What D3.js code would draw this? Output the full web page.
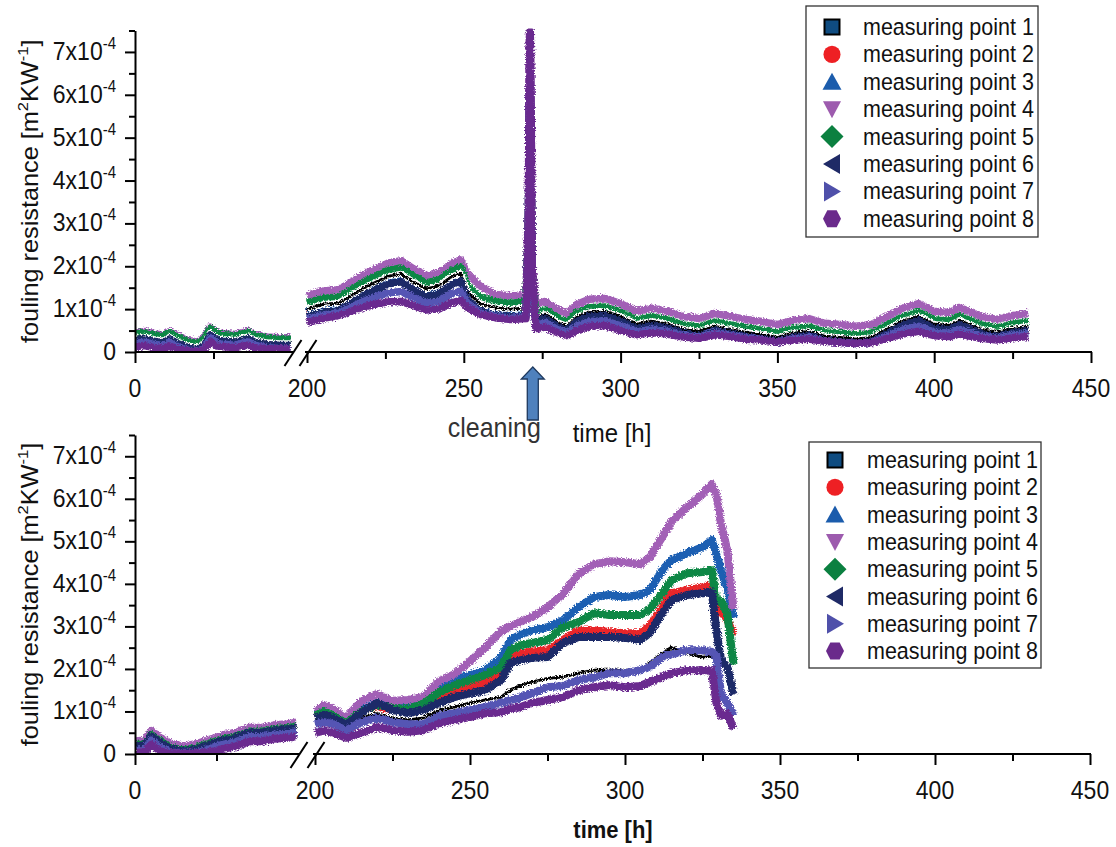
<!DOCTYPE html>
<html>
<head>
<meta charset="utf-8">
<script src="https://cdn.jsdelivr.net/npm/d3@7"></script>
<style>
  body { margin: 0; background: #fff; }
  svg { display: block; }
</style>
</head>
<body>
<svg id="chart" width="1116" height="847"></svg>
<script>
// ---------- series definitions ----------
const seriesNames = ["measuring point 1", "measuring point 2", "measuring point 3", "measuring point 4",
                     "measuring point 5", "measuring point 6", "measuring point 7", "measuring point 8"];
const seriesColors = ["#000000", "#e8252a", "#1d5fb2", "#a261b6", "#0e8744", "#1d2968", "#5454b4", "#6b2b8f"];
const symbolColors = ["#0f4c81", "#ee2024", "#1b5cac", "#9d5bae", "#0b8040", "#1f2a66", "#4f50aa", "#6a2a8b"];
const drawOrder = [1, 2, 3, 4, 0, 5, 6, 7];

// ---------- axis ticks ----------
const yMajorTicks = [0, 1, 2, 3, 4, 5, 6, 7];           // units of 1e-4 m²K/W
const yMinorTicks = [0.5, 1.5, 2.5, 3.5, 4.5, 5.5, 6.5, 7.5];
const xMajorLeft = [0];
const xMinorLeft = [25];
const xMajorRight = [200, 250, 300, 350, 400, 450];
const xMinorRight = [225, 275, 325, 375, 425];

// ---------- upper panel: run with cleaning (values in 1e-4 m²K/W) ----------
const topLeftTime = [0, 3, 6, 9, 11, 14, 17, 20, 22, 24, 26, 28, 32, 36, 38, 42, 46, 49.5];
const topLeftMP1 = [0.32,0.35,0.30,0.26,0.35,0.23,0.14,0.10,0.20,0.45,0.32,0.30,0.28,0.36,0.28,0.22,0.20,0.20];
const topLeftMP2 = [0.29,0.32,0.27,0.23,0.32,0.20,0.11,0.07,0.17,0.42,0.29,0.27,0.25,0.33,0.25,0.19,0.17,0.17];
const topLeftMP3 = [0.30,0.33,0.28,0.24,0.33,0.21,0.12,0.08,0.18,0.43,0.30,0.28,0.26,0.34,0.26,0.20,0.18,0.18];
const topLeftMP4 = [0.45,0.48,0.43,0.39,0.48,0.36,0.27,0.23,0.33,0.58,0.45,0.43,0.41,0.49,0.41,0.35,0.33,0.33];
const topLeftMP5 = [0.42,0.45,0.40,0.36,0.45,0.33,0.24,0.20,0.30,0.55,0.42,0.40,0.38,0.46,0.38,0.32,0.30,0.30];
const topLeftMP6 = [0.27,0.30,0.25,0.21,0.30,0.18,0.09,0.05,0.15,0.40,0.27,0.25,0.23,0.31,0.23,0.17,0.15,0.15];
const topLeftMP7 = [0.20,0.23,0.18,0.14,0.23,0.11,0.04,0.03,0.08,0.33,0.20,0.18,0.16,0.24,0.16,0.10,0.08,0.08];
const topLeftMP8 = [0.12,0.15,0.10,0.08,0.14,0.06,0.03,0.02,0.06,0.25,0.14,0.12,0.10,0.16,0.10,0.08,0.07,0.07];

const topRightTime = [200,203,206,210,214,218,222,226,230,234,238,242,246,249,251,255,260,265,269.8,
  270.6,270.9,271.2,271.5,271.8,
  273,276,280,283,286,290,295,300,305,310,315,320,325,330,335,340,345,350,355,360,365,370,375,380,385,390,395,400,405,408,412,415,420,425,430];
const topRightMP1 = [1.00,1.07,1.12,1.14,1.31,1.49,1.63,1.77,1.82,1.63,1.47,1.54,1.75,1.84,1.42,1.14,1.03,1.00,1.03,
  2.5,4.5,5.0,3.5,1.6,
  0.81,0.88,0.69,0.60,0.81,0.93,0.95,0.83,0.65,0.72,0.65,0.53,0.48,0.60,0.53,0.46,0.41,0.34,0.44,0.48,0.37,0.34,0.30,0.34,0.53,0.72,0.83,0.65,0.62,0.74,0.62,0.53,0.46,0.55,0.60];
const topRightMP2 = [0.92,0.99,1.04,1.06,1.23,1.41,1.55,1.69,1.74,1.55,1.39,1.46,1.67,1.76,1.34,1.06,0.95,0.92,0.95,
  2.6,4.8,5.2,3.6,1.6,
  0.76,0.83,0.64,0.55,0.76,0.88,0.90,0.78,0.60,0.67,0.60,0.48,0.43,0.55,0.48,0.41,0.36,0.29,0.39,0.43,0.32,0.29,0.25,0.29,0.48,0.67,0.78,0.60,0.57,0.69,0.57,0.48,0.41,0.50,0.55];
const topRightMP3 = [0.94,1.01,1.06,1.08,1.25,1.43,1.57,1.71,1.76,1.57,1.41,1.48,1.69,1.78,1.36,1.08,0.97,0.94,0.97,
  2.8,5.0,5.5,3.8,1.7,
  0.78,0.85,0.66,0.57,0.78,0.90,0.92,0.80,0.62,0.69,0.62,0.50,0.45,0.57,0.50,0.43,0.38,0.31,0.41,0.45,0.34,0.31,0.27,0.31,0.50,0.69,0.80,0.62,0.59,0.71,0.59,0.50,0.43,0.52,0.57];
const topRightMP4 = [1.31,1.38,1.43,1.45,1.62,1.80,1.94,2.08,2.13,1.94,1.78,1.85,2.06,2.15,1.85,1.55,1.34,1.31,1.34,
  3.5,7.4,7.3,5.0,2.0,
  1.11,1.18,0.99,0.90,1.11,1.23,1.25,1.13,0.95,1.02,0.95,0.83,0.78,0.90,0.83,0.76,0.71,0.64,0.74,0.78,0.67,0.64,0.60,0.64,0.83,1.02,1.13,0.95,0.92,1.04,0.92,0.83,0.76,0.85,0.90];
const topRightMP5 = [1.14,1.21,1.26,1.28,1.45,1.63,1.77,1.91,1.96,1.77,1.61,1.68,1.89,1.98,1.56,1.28,1.17,1.14,1.17,
  3.0,5.5,6.0,4.0,1.8,
  0.91,0.98,0.79,0.70,0.91,1.03,1.05,0.93,0.75,0.82,0.75,0.63,0.58,0.70,0.63,0.56,0.51,0.44,0.54,0.58,0.47,0.44,0.40,0.44,0.63,0.82,0.93,0.75,0.72,0.84,0.72,0.63,0.56,0.65,0.70];
const topRightMP6 = [0.82,0.89,0.94,0.96,1.13,1.31,1.45,1.59,1.64,1.45,1.29,1.36,1.57,1.66,1.24,0.96,0.85,0.82,0.85,
  2.5,4.2,4.5,3.2,1.5,
  0.71,0.78,0.59,0.50,0.71,0.83,0.85,0.73,0.55,0.62,0.55,0.43,0.38,0.50,0.43,0.36,0.31,0.24,0.34,0.38,0.27,0.24,0.20,0.24,0.43,0.62,0.73,0.55,0.52,0.64,0.52,0.43,0.36,0.45,0.50];
const topRightMP7 = [0.76,0.82,0.87,0.91,1.04,1.18,1.29,1.38,1.41,1.27,1.14,1.18,1.36,1.43,1.15,0.92,0.83,0.79,0.82,
  2.8,6.0,6.5,4.0,1.6,
  0.63,0.68,0.52,0.44,0.60,0.71,0.73,0.61,0.47,0.53,0.48,0.39,0.35,0.45,0.40,0.33,0.30,0.23,0.31,0.34,0.26,0.23,0.20,0.23,0.37,0.52,0.60,0.46,0.44,0.53,0.44,0.37,0.32,0.39,0.43];
const topRightMP8 = [0.70,0.74,0.80,0.85,0.95,1.05,1.12,1.17,1.18,1.08,0.98,1.00,1.15,1.20,1.05,0.88,0.80,0.76,0.78,
  3.2,7.2,7.5,5.5,2.0,
  0.55,0.58,0.45,0.38,0.50,0.60,0.62,0.50,0.40,0.45,0.42,0.35,0.32,0.40,0.36,0.30,0.28,0.23,0.28,0.30,0.25,0.22,0.20,0.22,0.32,0.42,0.48,0.38,0.36,0.42,0.36,0.32,0.28,0.33,0.36];

// ---------- lower panel: run without cleaning ----------
const botLeftTime = [0, 3, 5, 8, 11, 15, 19, 23, 27, 31, 35, 39, 43, 47, 49.5];
const botLeftMP1 = [0.18,0.20,0.42,0.25,0.12,0.06,0.12,0.22,0.32,0.38,0.50,0.50,0.56,0.58,0.62];
const botLeftMP2 = [0.19,0.21,0.43,0.26,0.13,0.07,0.13,0.23,0.33,0.39,0.51,0.51,0.57,0.59,0.63];
const botLeftMP3 = [0.22,0.24,0.46,0.29,0.16,0.10,0.16,0.26,0.36,0.42,0.54,0.54,0.60,0.62,0.66];
const botLeftMP4 = [0.30,0.32,0.54,0.37,0.24,0.18,0.24,0.34,0.44,0.50,0.62,0.62,0.68,0.70,0.74];
const botLeftMP5 = [0.21,0.23,0.45,0.28,0.15,0.09,0.15,0.25,0.35,0.41,0.53,0.53,0.59,0.61,0.65];
const botLeftMP6 = [0.18,0.20,0.42,0.25,0.12,0.06,0.12,0.22,0.32,0.38,0.50,0.50,0.56,0.58,0.62];
const botLeftMP7 = [0.08,0.10,0.32,0.15,0.03,0.03,0.03,0.12,0.22,0.28,0.40,0.40,0.46,0.48,0.52];
const botLeftMP8 = [0.03,0.04,0.22,0.06,0.02,0.02,0.02,0.04,0.12,0.18,0.30,0.30,0.36,0.38,0.42];

const botRightTime = [200,203,206,210,215,220,225,230,235,240,245,250,255,260,263,266,270,275,280,285,290,295,300,305,308,312,315,320,325,328,329.5,331,333,335];
const botRightMP1 = [0.8,0.85,0.8,0.6,0.85,0.95,0.85,0.8,0.85,1.03,1.1,1.2,1.27,1.34,1.5,1.6,1.69,1.78,1.81,1.9,1.97,1.97,1.97,1.97,2.15,2.37,2.51,2.37,2.28,2.3,2.2,2.3,2.1,1.5];
const botRightMP2 = [0.88,0.95,0.88,0.7,0.95,1.1,1.05,1.0,1.1,1.38,1.5,1.55,1.7,1.9,2.28,2.35,2.41,2.44,2.68,2.9,2.91,2.87,2.84,2.84,3.0,3.45,3.78,3.85,3.92,3.97,3.3,3.4,3.15,2.8];
const botRightMP3 = [0.95,1.05,0.95,0.75,1.05,1.2,1.12,1.12,1.25,1.57,1.74,1.86,1.97,2.26,2.68,2.8,2.91,2.98,3.15,3.45,3.69,3.74,3.69,3.74,3.85,4.32,4.56,4.72,4.86,5.03,4.7,4.3,3.9,3.2];
const botRightMP4 = [1.0,1.15,1.05,0.85,1.25,1.41,1.25,1.27,1.34,1.71,1.88,2.18,2.51,2.89,3.0,3.1,3.22,3.45,3.76,4.23,4.46,4.53,4.51,4.46,4.63,5.1,5.47,5.8,6.11,6.34,6.1,5.4,4.8,3.4];
const botRightMP5 = [0.9,1.0,0.9,0.72,1.0,1.15,1.08,1.05,1.18,1.45,1.62,1.74,1.86,2.04,2.44,2.55,2.61,2.68,2.98,3.1,3.31,3.27,3.27,3.27,3.4,3.78,4.09,4.25,4.28,4.32,3.6,3.6,3.3,2.1];
const botRightMP6 = [0.85,0.92,0.85,0.68,0.98,1.2,1.03,0.96,1.03,1.2,1.34,1.43,1.5,1.74,2.14,2.2,2.26,2.28,2.61,2.75,2.75,2.75,2.73,2.68,2.85,3.31,3.62,3.74,3.78,3.8,2.9,2.2,2.05,1.4];
const botRightMP7 = [0.7,0.75,0.7,0.55,0.75,0.85,0.75,0.7,0.7,0.9,0.96,1.03,1.1,1.2,1.27,1.32,1.43,1.57,1.6,1.74,1.8,1.9,1.9,1.97,2.05,2.28,2.35,2.44,2.44,2.4,2.3,1.4,1.2,0.9];
const botRightMP8 = [0.5,0.55,0.5,0.38,0.5,0.63,0.56,0.52,0.56,0.72,0.8,0.87,0.96,0.98,1.07,1.1,1.2,1.27,1.34,1.5,1.57,1.62,1.57,1.6,1.7,1.81,1.9,1.97,1.97,1.97,1.2,0.9,0.95,0.6];

// ---------- drawing ----------
const FONT = '"Liberation Sans", Arial, Helvetica, sans-serif';
const STRETCH = 1.1;
const svg = d3.select("#chart");
const defs = svg.append("defs");

// frayed edges for the densely sampled measurement traces
const rough = defs.append("filter").attr("id", "rough")
  .attr("filterUnits", "userSpaceOnUse").attr("x", 0).attr("y", 0).attr("width", 1116).attr("height", 847);
rough.append("feTurbulence").attr("type", "fractalNoise").attr("baseFrequency", "0.6 0.95")
  .attr("numOctaves", 2).attr("seed", 4).attr("result", "noise");
rough.append("feDisplacementMap").attr("in", "SourceGraphic").attr("in2", "noise")
  .attr("scale", 5).attr("xChannelSelector", "R").attr("yChannelSelector", "G");

// text helper: parts are strings or {sup: "..."} superscripts
function addText(parent, x, y, size, anchor, parts, opts = {}) {
  const rot = opts.rotate ? ` rotate(${opts.rotate})` : "";
  const g = parent.append("g").attr("transform", `translate(${x},${y}) scale(1,${STRETCH})${rot}`);
  const t = g.append("text")
    .attr("text-anchor", anchor)
    .attr("font-family", FONT)
    .attr("font-size", size)
    .attr("font-weight", opts.weight || "normal")
    .attr("fill", opts.fill || "#111");
  let raised = 0;
  parts.forEach(p => {
    if (typeof p === "string") {
      t.append("tspan").attr("dy", raised ? raised : null).text(p);
      raised = 0;
    } else {
      const r = Math.round(size * 0.42);
      t.append("tspan").attr("font-size", Math.round(size * 0.65)).attr("dy", -r).text(p.sup);
      raised = r;
    }
  });
  return g;
}

function polySymbol(pts) {
  return {
    draw(ctx) {
      ctx.moveTo(pts[0][0], pts[0][1]);
      for (let i = 1; i < pts.length; i++) ctx.lineTo(pts[i][0], pts[i][1]);
      ctx.closePath();
    }
  };
}
const legendSymbols = [
  polySymbol([[-7.5,-7.5],[7.5,-7.5],[7.5,7.5],[-7.5,7.5]]),
  d3.symbolCircle,
  polySymbol([[0,-9],[9.5,8],[-9.5,8]]),
  polySymbol([[0,9],[9,-8],[-9,-8]]),
  polySymbol([[0,-11.5],[11.5,0],[0,11.5],[-11.5,0]]),
  polySymbol([[-9,0],[8,-10],[8,10]]),
  polySymbol([[9,0],[-8,-10],[-8,10]]),
  polySymbol([[-9,0],[-4.7,-8.5],[4.7,-8.5],[9,0],[4.7,8.5],[-4.7,8.5]])
];

function drawPanel(cfg) {
  const g = svg.append("g");
  const y = d3.scaleLinear().domain([0, 7.5]).range([cfg.y0, cfg.yTop]);
  const xL = d3.scaleLinear().domain([0, 50]).range([cfg.x0, cfg.breakL]);
  const xR = d3.scaleLinear().domain([200, 450]).range([cfg.breakR, cfg.xEnd]);

  const clipId = "clip-" + cfg.id;
  defs.append("clipPath").attr("id", clipId).append("rect")
    .attr("x", cfg.x0 + 1).attr("y", cfg.yTop - 2)
    .attr("width", cfg.xEnd - cfg.x0).attr("height", cfg.y0 - cfg.yTop + 1);

  // measurement traces
  const traces = g.append("g").attr("clip-path", `url(#${clipId})`)
    .append("g").attr("filter", "url(#rough)");
  drawOrder.forEach(i => {
    [[xL, cfg.leftTime, cfg.left[i]], [xR, cfg.rightTime, cfg.right[i]]].forEach(([xs, times, vals]) => {
      const line = d3.line().x((d, k) => xs(times[k])).y(d => y(d));
      if (i === 0) {
        traces.append("path").attr("d", line(vals)).attr("fill", "none")
          .attr("stroke", "#fff").attr("stroke-width", 6.5).attr("stroke-linejoin", "round");
        traces.append("path").attr("d", line(vals)).attr("fill", "none")
          .attr("stroke", "#000").attr("stroke-width", 2.8).attr("stroke-linejoin", "round");
      } else {
        traces.append("path").attr("d", line(vals)).attr("fill", "none")
          .attr("stroke", seriesColors[i]).attr("stroke-width", cfg.lineWidth).attr("stroke-linejoin", "round");
      }
    });
  });

  // y axis
  const yAx = g.append("g").attr("transform", `translate(${cfg.x0},0)`);
  yAx.call(d3.axisLeft(y).tickValues(yMajorTicks).tickSize(10).tickSizeOuter(0).tickFormat(""));
  yAx.append("g").call(d3.axisLeft(y).tickValues(yMinorTicks).tickSize(6).tickSizeOuter(0).tickFormat(""))
    .select(".domain").remove();
  yAx.selectAll("path,line").attr("stroke", "#000").attr("stroke-width", 2);
  yMajorTicks.forEach(v => {
    const parts = v === 0 ? ["0"] : [`${v}x10`, { sup: "-4" }];
    addText(g, cfg.x0 - 19, y(v) + 8, 23, "end", parts);
  });

  // x axis, broken between 50 h and 200 h
  const xAxL = g.append("g").attr("transform", `translate(0,${cfg.y0})`);
  xAxL.call(d3.axisBottom(xL).tickValues(xMajorLeft).tickSize(11).tickFormat(""));
  xAxL.append("g").call(d3.axisBottom(xL).tickValues(xMinorLeft).tickSize(7).tickFormat(""));
  const xAxR = g.append("g").attr("transform", `translate(0,${cfg.y0})`);
  xAxR.call(d3.axisBottom(xR).tickValues(xMajorRight).tickSize(11).tickFormat(""));
  xAxR.append("g").call(d3.axisBottom(xR).tickValues(xMinorRight).tickSize(7).tickFormat(""));
  g.selectAll(".domain").filter(function () { return this.parentNode !== yAx.node(); }).remove();
  [xAxL, xAxR].forEach(a => a.selectAll("line").attr("stroke", "#000").attr("stroke-width", 2));
  g.append("line").attr("x1", cfg.x0).attr("x2", cfg.breakL + 1)
    .attr("y1", cfg.y0).attr("y2", cfg.y0).attr("stroke", "#000").attr("stroke-width", 2.2);
  g.append("line").attr("x1", cfg.breakR - 2).attr("x2", cfg.xEnd + 1)
    .attr("y1", cfg.y0).attr("y2", cfg.y0).attr("stroke", "#000").attr("stroke-width", 2.2);
  [cfg.breakL + 1, cfg.breakR + 1].forEach(cx => {
    g.append("line").attr("x1", cx - 8.5).attr("y1", cfg.y0 + 14).attr("x2", cx + 8.5).attr("y2", cfg.y0 - 12)
      .attr("stroke", "#000").attr("stroke-width", 2);
  });
  xMajorLeft.forEach(v => addText(g, xL(v), cfg.y0 + 45, 23, "middle", [String(v)]));
  xMajorRight.forEach(v => addText(g, xR(v), cfg.y0 + 45, 23, "middle", [String(v)]));

  // axis titles
  addText(g, cfg.titleX, (cfg.y0 + cfg.yTop) / 2, 23, "middle",
    ["fouling resistance [m", { sup: "2" }, "KW", { sup: "-1" }, "]"], { rotate: -90 });
  addText(g, cfg.timeX, cfg.timeY, cfg.timeSize, "middle", ["time [h]"], { weight: cfg.timeWeight });

  // legend
  const lg = g.append("g");
  lg.append("rect").attr("x", cfg.legend.x).attr("y", cfg.legend.y)
    .attr("width", cfg.legend.w).attr("height", cfg.legend.h)
    .attr("fill", "#fff").attr("stroke", "#333").attr("stroke-width", 1.3);
  seriesNames.forEach((name, i) => {
    const cy = cfg.legend.row0 + i * cfg.legend.step;
    lg.append("path")
      .attr("transform", `translate(${cfg.legend.symX},${cy})`)
      .attr("d", d3.symbol().type(legendSymbols[i]).size(i === 1 ? 230 : 64)())
      .attr("fill", symbolColors[i])
      .attr("stroke", i === 0 ? "#000" : "none").attr("stroke-width", 2);
    addText(lg, cfg.legend.textX, cy + 8, 21.5, "start", [name]);
  });

  return { xL, xR, y };
}

const upper = drawPanel({
  id: "upper", x0: 135, breakL: 292, breakR: 307, xEnd: 1091, y0: 352, yTop: 30.5, lineWidth: 7.5,
  leftTime: topLeftTime, rightTime: topRightTime,
  left: [topLeftMP1, topLeftMP2, topLeftMP3, topLeftMP4, topLeftMP5, topLeftMP6, topLeftMP7, topLeftMP8],
  right: [topRightMP1, topRightMP2, topRightMP3, topRightMP4, topRightMP5, topRightMP6, topRightMP7, topRightMP8],
  titleX: 38, timeX: 612, timeY: 442, timeSize: 24, timeWeight: "normal",
  legend: { x: 806, y: 6, w: 232, h: 231, symX: 832, textX: 863, row0: 27, step: 27.4 }
});

drawPanel({
  id: "lower", x0: 135, breakL: 298, breakR: 315, xEnd: 1090, y0: 754, yTop: 435, lineWidth: 8,
  leftTime: botLeftTime, rightTime: botRightTime,
  left: [botLeftMP1, botLeftMP2, botLeftMP3, botLeftMP4, botLeftMP5, botLeftMP6, botLeftMP7, botLeftMP8],
  right: [botRightMP1, botRightMP2, botRightMP3, botRightMP4, botRightMP5, botRightMP6, botRightMP7, botRightMP8],
  titleX: 38, timeX: 613, timeY: 838, timeSize: 22, timeWeight: "bold",
  legend: { x: 809, y: 442, w: 232, h: 226, symX: 835, textX: 867, row0: 460, step: 27.3 }
});

// cleaning marker below the upper time axis
const cleanX = upper.xR(272);
const arrow = [[0, 0], [11.5, 12], [5.5, 12], [5.5, 53], [-5.5, 53], [-5.5, 12], [-11.5, 12]];
svg.append("path")
  .attr("d", d3.line()(arrow.map(([dx, dy]) => [cleanX + dx, 367 + dy])) + "Z")
  .attr("fill", "#4f81bd").attr("stroke", "#1f3a5f").attr("stroke-width", 1.3);
addText(svg, cleanX + 8, 437, 25, "end", ["cleaning"], { fill: "#333" });
</script>
</body>
</html>
